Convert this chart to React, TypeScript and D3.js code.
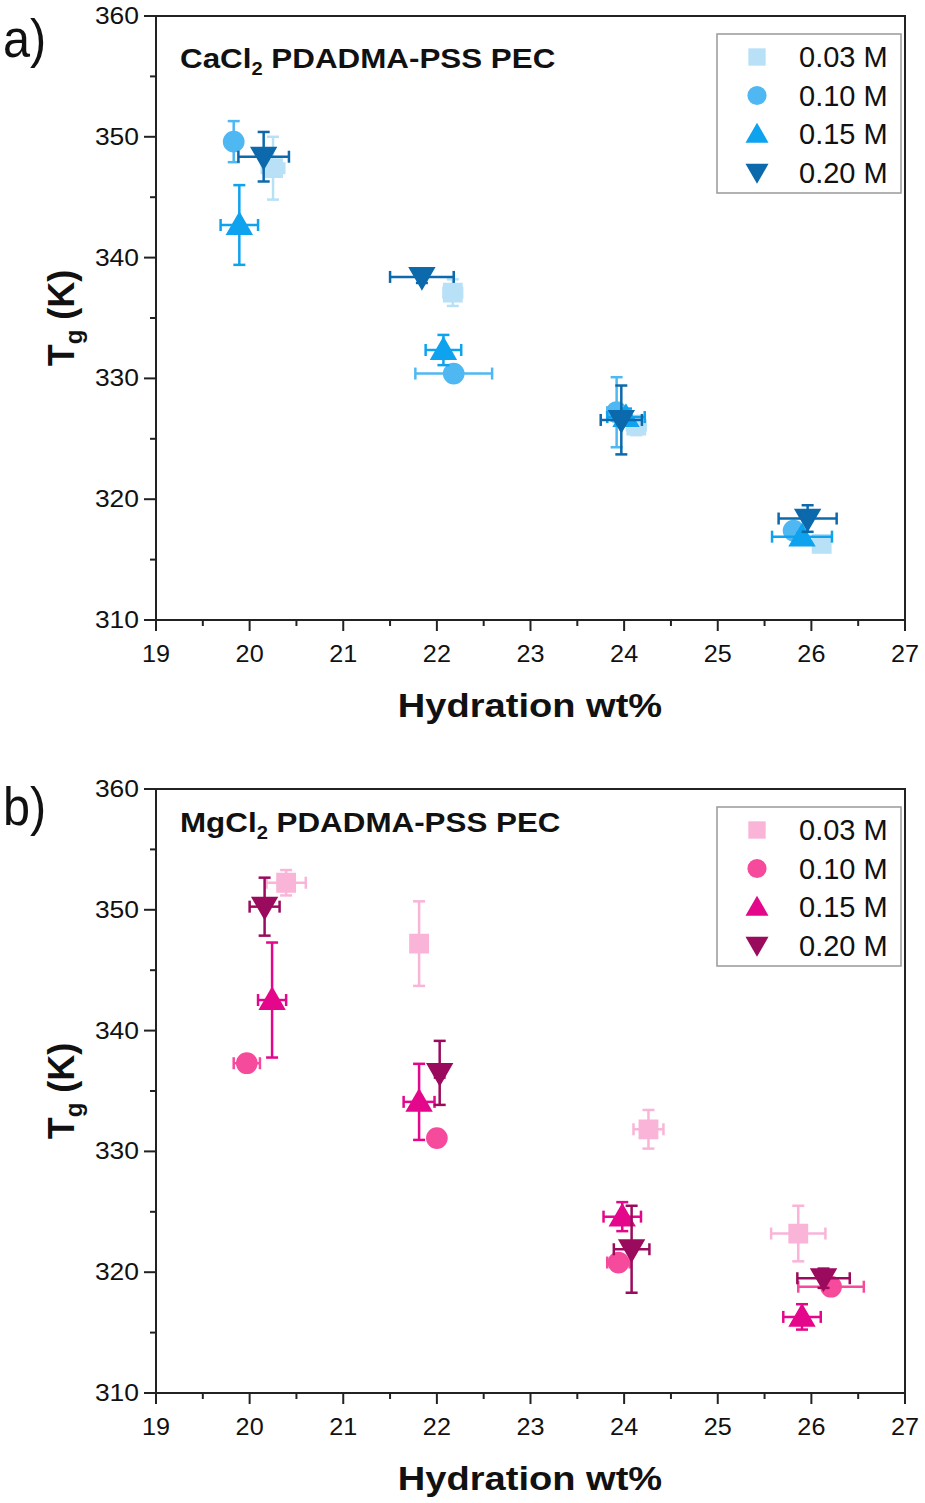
import * as d3 from "d3";

// series labels and marker kinds
const concLabels = ["0.03 M", "0.10 M", "0.15 M", "0.20 M"];
const markerKinds = ["square", "circle", "up", "down"];

const xTicks = [19, 20, 21, 22, 23, 24, 25, 26, 27];
const yTicks = [310, 320, 330, 340, 350, 360];

// CaCl2 panel (a)
const caColors = ["#b8e0f7", "#4fb8f2", "#0ea2ef", "#0b69ac"];
const caHyd = [
  [20.25, 22.17, 24.13, 26.11],
  [19.83, 22.18, 23.92, 25.81],
  [19.89, 22.07, 24.02, 25.9],
  [20.15, 21.84, 23.97, 25.96],
];
const caTg = [
  [347.4, 337.1, 326.1, 316.3],
  [349.6, 330.4, 327.2, 317.4],
  [342.7, 332.35, 326.8, 316.9],
  [348.35, 338.4, 326.56, 318.4],
];
const caHydErr = [
  [0.12, 0.1, 0.1, 0.08],
  [0.05, 0.41, 0.1, 0.08],
  [0.2, 0.19, 0.2, 0.32],
  [0.27, 0.34, 0.22, 0.31],
];
const caTgErr = [
  [2.6, 1.1, 0.8, 0.3],
  [1.7, 0.3, 2.9, 0.4],
  [3.3, 1.25, 0.7, 0.3],
  [2.05, 0.5, 2.85, 1.1],
];

// MgCl2 panel (b)
const mgColors = ["#f9b4d8", "#f64a9c", "#e5078b", "#9b0b5d"];
const mgHyd = [
  [20.39, 21.81, 24.26, 25.86],
  [19.97, 22.0, 23.94, 26.21],
  [20.24, 21.81, 23.98, 25.9],
  [20.16, 22.03, 24.08, 26.13],
];
const mgTg = [
  [352.24, 347.2, 331.83, 323.2],
  [337.3, 331.1, 320.8, 318.8],
  [342.53, 334.1, 324.6, 316.3],
  [350.26, 336.5, 321.9, 319.5],
];
const mgHydErr = [
  [0.21, 0.05, 0.16, 0.29],
  [0.14, 0.05, 0.12, 0.35],
  [0.15, 0.165, 0.2, 0.2],
  [0.16, 0.05, 0.19, 0.28],
];
const mgTgErr = [
  [1.05, 3.5, 1.6, 2.3],
  [0.3, 0.3, 0.4, 0.3],
  [4.76, 3.15, 1.2, 1.05],
  [2.4, 2.65, 3.6, 0.8],
];

const left = 156;
const right = 905;
const plotH = 604;
const font = "Liberation Sans, Arial, sans-serif";

function markerPath(kind) {
  if (kind === "square") return d3.symbol(d3.symbolSquare, 300)();
  if (kind === "circle") return d3.symbol(d3.symbolCircle, 290)();
  return d3.symbol(d3.symbolTriangle, 230)();
}

function Marker({ kind, x, y, color }) {
  const rot = kind === "down" ? " rotate(180)" : "";
  const dy = kind === "up" ? 2 : kind === "down" ? -2 : 0;
  return (
    <path
      d={markerPath(kind)}
      transform={`translate(${x},${y + dy})${rot}`}
      fill={color}
    />
  );
}

function Panel({ top, letter, letterY, salt, titleY, colors, hyd, tg, hydErr, tgErr }) {
  const x = d3.scaleLinear().domain([19, 27]).range([left, right]);
  const y = d3.scaleLinear().domain([310, 360]).range([top + plotH, top]);
  const bottom = top + plotH;
  const cap = 6;

  const xMinor = d3.range(19.5, 27, 1);
  const yMinor = d3.range(315, 360, 10);

  return (
    <g>
      <text
        transform={`translate(3,${letterY}) scale(0.9,1)`}
        fontFamily={font}
        fontSize={54}
        fill="#111"
      >
        {letter}
      </text>

      {/* ticks */}
      {xTicks.map((t) => (
        <g key={"xt" + t}>
          <line x1={x(t)} x2={x(t)} y1={bottom} y2={bottom + 11} stroke="#222" strokeWidth={2} />
          <text
            transform={`translate(${x(t)},${bottom + 42}) scale(1.05,1)`}
            textAnchor="middle"
            fontFamily={font}
            fontSize={24}
            fill="#111"
          >
            {t}
          </text>
        </g>
      ))}
      {xMinor.map((t) => (
        <line key={"xm" + t} x1={x(t)} x2={x(t)} y1={bottom} y2={bottom + 6} stroke="#222" strokeWidth={2} />
      ))}
      {yTicks.map((t) => (
        <g key={"yt" + t}>
          <line x1={left - 12} x2={left} y1={y(t)} y2={y(t)} stroke="#222" strokeWidth={2} />
          <text
            transform={`translate(139,${y(t) + 8}) scale(1.15,1)`}
            textAnchor="end"
            fontFamily={font}
            fontSize={23}
            fill="#111"
          >
            {t}
          </text>
        </g>
      ))}
      {yMinor.map((t) => (
        <line key={"ym" + t} x1={left - 6} x2={left} y1={y(t)} y2={y(t)} stroke="#222" strokeWidth={2} />
      ))}

      {/* frame */}
      <rect x={left} y={top} width={right - left} height={plotH} fill="none" stroke="#222" strokeWidth={2} />

      {/* title */}
      <text
        transform={`translate(180,${titleY}) scale(1.12,1)`}
        fontFamily={font}
        fontWeight="bold"
        fontSize={28}
        fill="#111"
      >
        {salt === "Ca" ? "CaCl" : "MgCl"}
        <tspan fontSize={18} dy={7}>2</tspan>
        <tspan dy={-7}> PDADMA-PSS PEC</tspan>
      </text>

      {/* axis labels */}
      <text
        transform={`translate(530,${bottom + 97}) scale(1.12,1)`}
        textAnchor="middle"
        fontFamily={font}
        fontWeight="bold"
        fontSize={34}
        fill="#111"
      >
        Hydration wt%
      </text>
      <text
        transform={`translate(74,${top + 302}) rotate(-90)`}
        textAnchor="middle"
        fontFamily={font}
        fontWeight="bold"
        fontSize={36}
        fill="#111"
      >
        T<tspan fontSize={24} dy={8}>g</tspan>
        <tspan dy={-8}> (K)</tspan>
      </text>

      {/* data */}
      {hyd.map((xs, s) => (
        <g key={"s" + s}>
          {xs.map((hx, i) => {
            const cx = x(hx);
            const cy = y(tg[s][i]);
            const x0 = x(hx - hydErr[s][i]);
            const x1 = x(hx + hydErr[s][i]);
            const y0 = y(tg[s][i] - tgErr[s][i]);
            const y1 = y(tg[s][i] + tgErr[s][i]);
            return (
              <g key={i} stroke={colors[s]} strokeWidth={2.5}>
                <line x1={x0} x2={x1} y1={cy} y2={cy} />
                <line x1={x0} x2={x0} y1={cy - cap} y2={cy + cap} />
                <line x1={x1} x2={x1} y1={cy - cap} y2={cy + cap} />
                <line x1={cx} x2={cx} y1={y0} y2={y1} />
                <line x1={cx - cap} x2={cx + cap} y1={y0} y2={y0} />
                <line x1={cx - cap} x2={cx + cap} y1={y1} y2={y1} />
                <Marker kind={markerKinds[s]} x={cx} y={cy} color={colors[s]} />
              </g>
            );
          })}
        </g>
      ))}

      {/* legend */}
      <rect x={717} y={top + 18} width={184} height={159} fill="#fff" stroke="#999" strokeWidth={1.5} />
      {concLabels.map((lab, s) => {
        const ly = top + 41 + s * 38.5;
        return (
          <g key={lab}>
            <Marker kind={markerKinds[s]} x={757} y={ly} color={colors[s]} />
            <text x={799} y={ly + 10} fontFamily={font} fontSize={29} fill="#111">
              {lab}
            </text>
          </g>
        );
      })}
    </g>
  );
}

export default function App() {
  return (
    <svg
      width={925}
      height={1503}
      style={{ position: "absolute", left: 0, top: 0, background: "#fff" }}
    >
      <rect width={925} height={1503} fill="#fff" />
      <Panel
        top={16}
        letter="a)"
        letterY={57}
        salt="Ca"
        titleY={68}
        colors={caColors}
        hyd={caHyd}
        tg={caTg}
        hydErr={caHydErr}
        tgErr={caTgErr}
      />
      <Panel
        top={789}
        letter="b)"
        letterY={825}
        salt="Mg"
        titleY={832}
        colors={mgColors}
        hyd={mgHyd}
        tg={mgTg}
        hydErr={mgHydErr}
        tgErr={mgTgErr}
      />
    </svg>
  );
}
